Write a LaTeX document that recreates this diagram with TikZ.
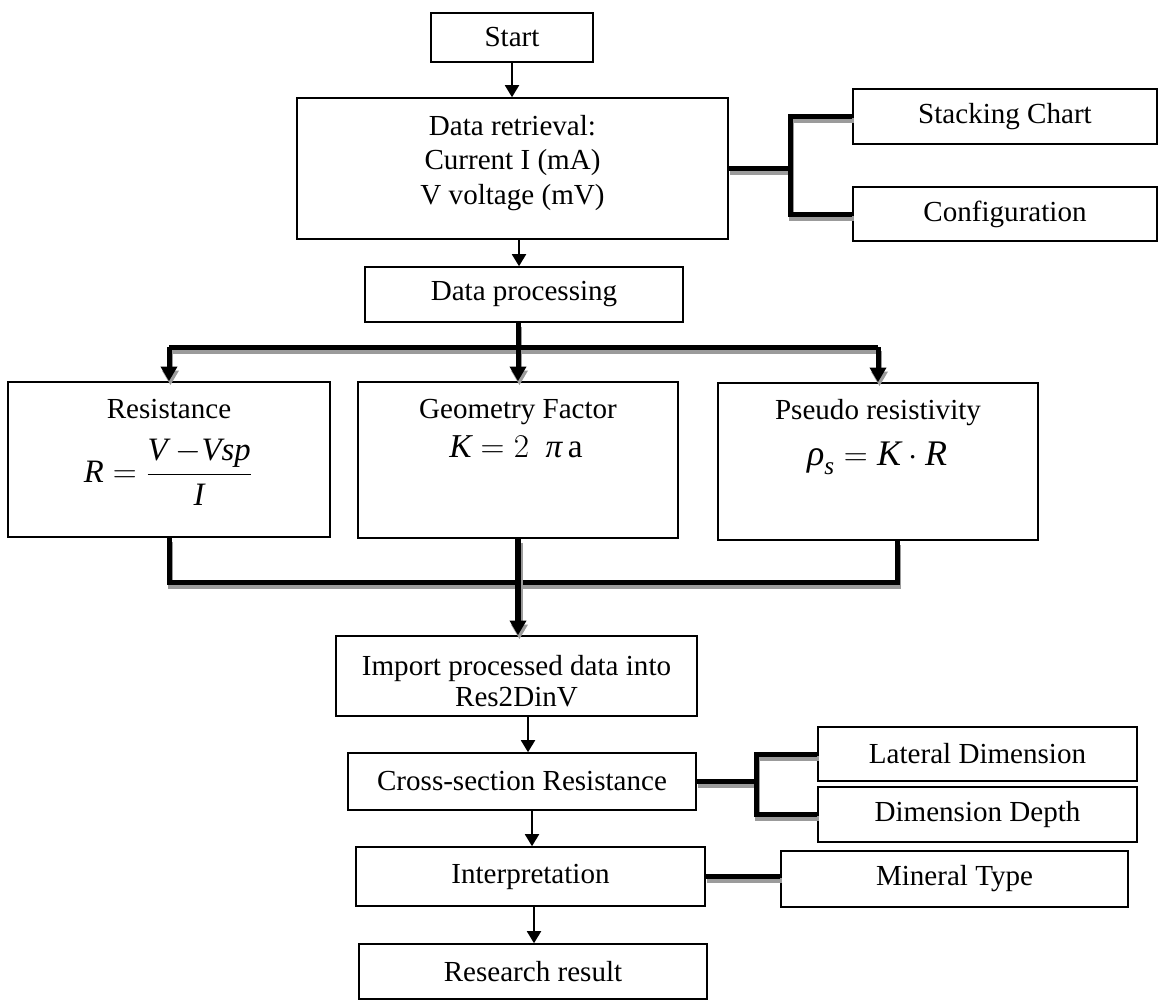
\documentclass[tikz,border=0pt]{standalone}
\usepackage{amsmath}
\usepackage{fontspec}
\setmainfont{Liberation Serif}
\usetikzlibrary{arrows.meta,calc}
\definecolor{shadowgray}{RGB}{155,155,155}
\tikzset{
  x=0.75pt, y=-0.75pt,
  box/.style={draw, line width=1.2pt, inner sep=0pt, align=center,
    font=\fontsize{21.8}{26}\selectfont},
  txt/.style={inner sep=0pt, align=center, font=\fontsize{21.8}{26}\selectfont},
  thinarr/.style={line width=1.4pt, -{Triangle[length=9pt,width=10.5pt]}},
  thickln/.style={line width=3.75pt, line cap=butt, line join=miter},
  shadowln/.style={thickln, draw=shadowgray},
  tarr/.style={-{Triangle[length=11pt,width=12pt]}},
}
\newcommand\bx[6]{\node[box,minimum width={(#4-#2)*0.75pt},minimum height={(#5-#3)*0.75pt}] (#1) at ({(#2+#4)/2},{(#3+#5)/2}) {#6};}
\newcommand\thk[2][]{%
  \begin{scope}[transform canvas={xshift=1.1pt,yshift=-3pt}]\draw[shadowln,#1] #2;\end{scope}
  \draw[thickln,#1] #2;}
\begin{document}
\begin{tikzpicture}
\useasboundingbox[fill=white] (0,0) rectangle (1166,1000);
% boxes
\bx{start}{431}{13}{593}{62}{Start}
\bx{dr}{297}{98}{728}{239}{}
\node[txt] (drt) at (512.5,163) {Data retrieval:\\Current I (mA)\\V voltage (mV)};
\bx{stack}{853}{89}{1157}{144}{Stacking Chart}
\bx{config}{853}{187}{1157}{241}{Configuration}
\bx{dp}{365}{267}{683}{322}{Data processing}
\bx{res}{8}{382}{330}{537}{}
\node[txt,anchor=base] (rest) at (169,418) {Resistance};
\node[txt,font=\fontsize{24.5}{28}\selectfont] (resf) at (168,472) {$\textit{R} = \dfrac{\textit{V}\ {-}\textit{Vsp}}{\textit{I}}$};
\bx{geo}{358}{382}{678}{538}{}
\node[txt,anchor=base] (geot) at (518,418) {Geometry Factor};
\node[txt,font=\fontsize{25}{28}\selectfont] (geof) at (516,447) {$\textit{K} = 2\ \ \textit{π}\,\textup{a}$};
\bx{pse}{718}{383}{1038}{540}{}
\node[txt,anchor=base] (pset) at (878,419) {Pseudo resistivity};
\node[txt,font=\fontsize{27}{30}\selectfont] (psef) at (877,458) {$\textit{ρ}_{\textit{s}} = \textit{K}\cdot\textit{R}$};
\bx{imp}{336}{636}{697}{716}{}
\node[txt,font=\fontsize{21.8}{23.3}\selectfont] (impt) at (516.5,681) {Import processed data into\\Res2DinV};
\bx{cs}{348}{753}{696}{810}{Cross-section Resistance}
\bx{lat}{818}{727}{1137}{781}{Lateral Dimension}
\bx{dep}{818}{787}{1137}{842}{Dimension Depth}
\bx{interp}{356}{847}{705}{906}{Interpretation}
\bx{min}{781}{851}{1128}{907}{Mineral Type}
\bx{rr}{359}{944}{707}{999}{Research result}
% helper coordinates
\coordinate (j1) at (790,0);
\coordinate (bus1) at (0,347);
\coordinate (bus2) at (0,582);
\coordinate (pb) at (897,0);
\coordinate (j2) at (756,0);
\coordinate (a2) at (519,0);
\coordinate (a3) at (528,0);
\coordinate (a4) at (532,0);
\coordinate (a5) at (534,0);
% thin arrows
\draw[thinarr] (start.south) -- (start.south |- dr.north);
\draw[thinarr] (dr.south -| a2) -- (dp.north -| a2);
\draw[thinarr] (imp.south -| a3) -- (cs.north -| a3);
\draw[thinarr] (cs.south -| a4) -- (interp.north -| a4);
\draw[thinarr] (interp.south -| a5) -- (rr.north -| a5);
% thick connectors
\thk{(dr.east) -- (dr.east -| j1)}
\thk{(stack.west) -- (stack.west -| j1) -- (config.west -| j1) -- (config.west)}
\thk{(geo.north |- dp.south) -- (geo.north |- bus1)}
\thk{(res.north |- bus1) -- (pse.north |- bus1)}
\thk[tarr]{(res.north |- bus1) -- (res.north)}
\thk[tarr]{(geo.north |- bus1) -- (geo.north)}
\thk[tarr]{(pse.north |- bus1) -- (pse.north)}
\thk{(res.south) -- (res.south |- bus2) -- (bus2 -| pb) -- (pse.south -| pb)}
\thk[tarr,line width=5pt]{(geo.south) -- (geo.south |- imp.north)}
\thk{(cs.east) -- (cs.east -| j2)}
\thk{(lat.west) -- (lat.west -| j2) -- (dep.west -| j2) -- (dep.west)}
\thk{(interp.east) -- (interp.east -| min.west)}
\end{tikzpicture}
\end{document}
